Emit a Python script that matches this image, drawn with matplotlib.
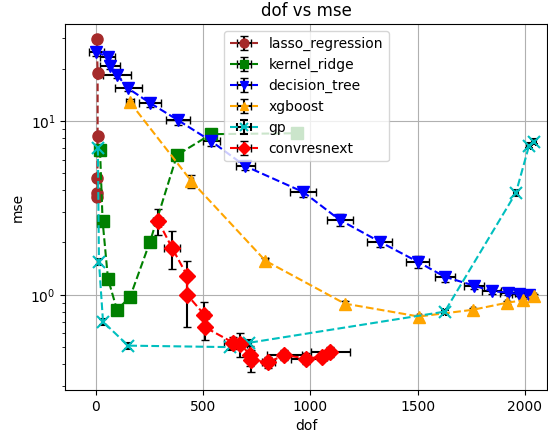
import matplotlib
matplotlib.use("Agg")
import matplotlib.pyplot as plt
from matplotlib.ticker import MultipleLocator

# lasso_regression
lasso_x = [4, 8, 8, 7, 7, 7]
lasso_y = [29.5, 18.9, 8.2, 4.7, 3.85, 3.66]
lasso_xerr = [3, 3, 3, 3, 3, 3]
lasso_yerr = [0.8, 0.6, 0.3, 0.15, 0.1, 0.1]

# kernel_ridge
kr_x = [19, 31, 56, 98, 159, 252, 378, 537, 939]
kr_y = [6.8, 2.66, 1.24, 0.82, 0.97, 2.02, 6.37, 8.4, 8.5]
kr_xerr = [3, 3, 3, 3, 3, 3, 3, 3, 3]
kr_yerr = [0.2, 0.08, 0.03, 0.02, 0.02, 0.05, 0.15, 0.2, 0.2]

# decision_tree
dt_x = [2, 56, 65, 98, 150, 252, 383, 537, 696, 967, 1136, 1323, 1500, 1626,
        1762, 1846, 1921, 1972, 2019]
dt_y = [25.0, 23.3, 20.8, 18.4, 15.4, 12.7, 10.1, 7.66, 5.5, 3.9, 2.7, 2.02,
        1.55, 1.27, 1.13, 1.05, 1.03, 1.01, 1.0]
dt_xerr = [35, 35, 45, 67, 63, 50, 56, 40, 45, 60, 61, 58, 55, 46, 46, 44, 35,
           30, 25]
dt_yerr = [1.2, 1.0, 0.8, 0.7, 0.6, 0.6, 0.6, 0.5, 0.3, 0.25, 0.2, 0.13, 0.12,
           0.08, 0.05, 0.04, 0.03, 0.03, 0.03]

# xgboost
xgb_x = [159, 444, 790, 1160, 1505, 1757, 1916, 1990, 2042]
xgb_y = [12.8, 4.52, 1.57, 0.89, 0.75, 0.82, 0.90, 0.93, 0.99]
xgb_xerr = [20, 10, 10, 10, 10, 8, 8, 8, 8]
xgb_yerr = [0.5, 0.4, 0.06, 0.03, 0.02, 0.02, 0.02, 0.02, 0.02]

# gp
gp_x = [9, 14, 33, 150, 626, 715, 1626, 1958, 2019, 2042]
gp_y = [7.0, 1.55, 0.70, 0.51, 0.50, 0.53, 0.80, 3.86, 7.2, 7.6]
gp_xerr = [3, 3, 5, 5, 8, 8, 8, 8, 8, 8]
gp_yerr = [0.3, 0.06, 0.03, 0.02, 0.02, 0.02, 0.02, 0.15, 0.25, 0.25]

# convresnext
cn_x = [290, 355, 425, 425, 505, 509, 640, 673, 720, 724, 804, 879, 981,
        1056, 1093]
cn_y = [2.66, 1.86, 1.29, 1.0, 0.77, 0.65, 0.53, 0.52, 0.45, 0.42, 0.41,
        0.45, 0.43, 0.44, 0.47]
cn_xerr = [23, 39, 18, 18, 20, 20, 45, 30, 15, 15, 30, 80, 70, 20, 90]
cn_yerr = [0.45, 0.46, 0.27, 0.35, 0.14, 0.10, 0.04, 0.08, 0.06, 0.06, 0.03,
           0.03, 0.03, 0.02, 0.03]

series = [
    ("lasso_regression", lasso_x, lasso_y, lasso_xerr, lasso_yerr, "brown", "o"),
    ("kernel_ridge", kr_x, kr_y, kr_xerr, kr_yerr, "g", "s"),
    ("decision_tree", dt_x, dt_y, dt_xerr, dt_yerr, "b", "v"),
    ("xgboost", xgb_x, xgb_y, xgb_xerr, xgb_yerr, "orange", "^"),
    ("gp", gp_x, gp_y, gp_xerr, gp_yerr, "c", "x"),
    ("convresnext", cn_x, cn_y, cn_xerr, cn_yerr, "r", "D"),
]

fig, ax = plt.subplots(figsize=(5.48, 4.38), dpi=100)
fig.subplots_adjust(left=0.1195, right=0.999, bottom=0.11, top=0.945)

for name, xs, ys, xe, ye, color, marker in series:
    ax.errorbar(xs, ys, xerr=xe, yerr=ye, fmt=marker, linestyle="--",
                color=color, ecolor="k", capsize=3, markersize=8,
                markeredgewidth=1.5 if marker == "x" else 1.0, label=name)

ax.set_yscale("log")
ax.set_xlim(-142, 2105)
ax.set_ylim(0.284, 36.1)
ax.xaxis.set_major_locator(MultipleLocator(500))
ax.set_xlabel("dof")
ax.set_ylabel("mse")
ax.set_title("dof vs mse")
ax.grid(True)
ax.legend(loc="upper center", markerscale=0.8)

fig.savefig("out.png", dpi=100)
